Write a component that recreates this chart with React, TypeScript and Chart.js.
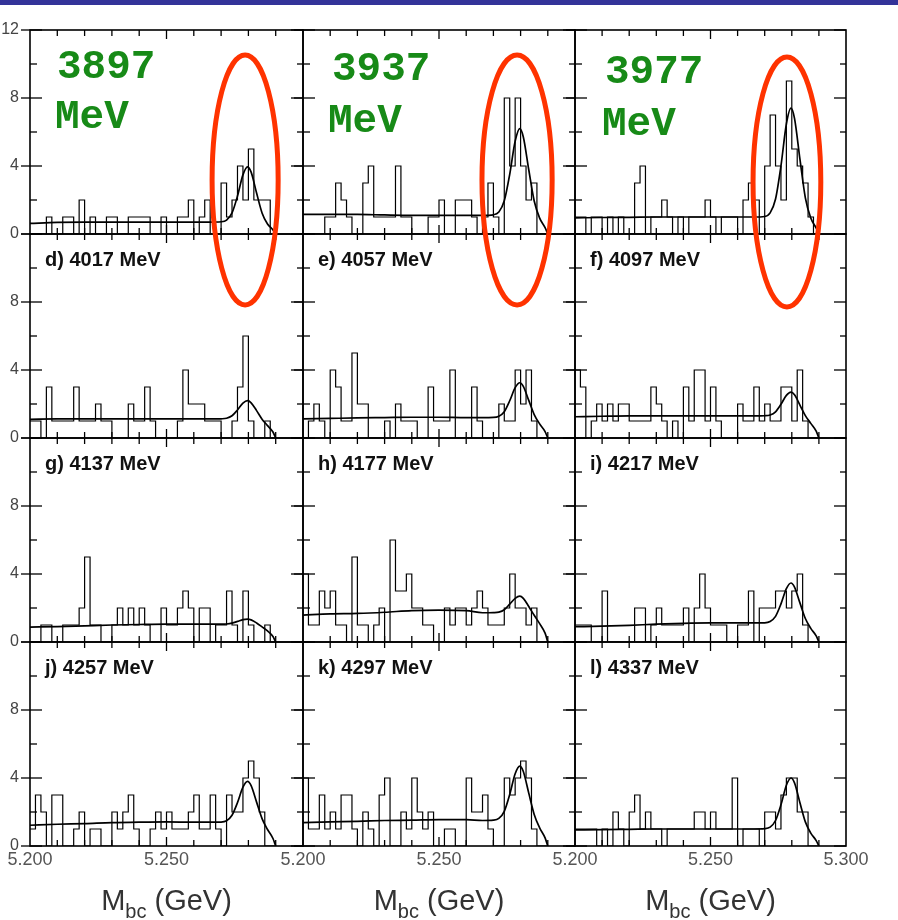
import React, { useEffect, useRef } from "react";
import { Chart, registerables } from "chart.js";

Chart.register(...registerables);

// ---------------- axes ----------------
const X_MIN = 5.2;
const X_MAX = 5.3;
const Y_MIN = 0;
const Y_MAX = 12;
const BIN_WIDTH = 0.002;
const HIST_END = 5.29;
const xTicks = [5.21, 5.22, 5.23, 5.24, 5.25, 5.26, 5.27, 5.28, 5.29];
const xLongTick = 5.25;
const xTickLabels = [5.2, 5.25];
const xLastLabel = 5.3;
const yMajorTicks = [0, 4, 8, 12];
const yMinorTicks = [2, 6, 10];
const yTickLabels = [0, 4, 8];
const yTopLabel = 12;

// ---------------- histograms (counts per 2 MeV bin, 5.200 - 5.290 GeV) ----------------
const histA = [0, 0, 0, 1, 0, 0, 1, 1, 0, 2, 0, 1, 0, 0, 1, 1, 0, 0, 1, 1, 1, 1, 0, 0, 1, 0, 0, 1, 1, 2, 0, 1, 2, 0, 0, 3, 1, 2, 4, 2, 5, 2, 2, 2, 0];
const histB = [0, 0, 0, 0, 1, 1, 3, 2, 1, 0, 0, 3, 4, 1, 1, 1, 1, 4, 1, 1, 0, 0, 0, 1, 1, 2, 0, 0, 2, 2, 2, 1, 0, 1, 3, 1, 0, 8, 4, 8, 4, 2, 3, 0, 0];
const histC = [1, 1, 0, 1, 1, 0, 1, 0, 1, 0, 0, 3, 4, 0, 1, 1, 2, 1, 0, 1, 0, 1, 1, 1, 2, 1, 0, 1, 1, 1, 0, 2, 3, 2, 0, 4, 7, 4, 2, 9, 5, 4, 3, 1, 0];
const histD = [1, 1, 0, 3, 1, 1, 1, 1, 3, 1, 1, 1, 2, 1, 1, 0, 0, 0, 2, 1, 1, 3, 1, 0, 0, 0, 0, 1, 4, 2, 2, 2, 1, 1, 1, 0, 0, 1, 3, 6, 1, 0, 0, 1, 0];
const histE = [0, 1, 2, 1, 0, 4, 3, 1, 1, 5, 2, 2, 0, 0, 0, 1, 0, 2, 1, 1, 1, 0, 0, 3, 1, 1, 1, 4, 0, 0, 0, 3, 1, 0, 0, 0, 2, 1, 1, 4, 2, 4, 1, 0, 0];
const histF = [4, 3, 0, 1, 2, 1, 2, 1, 2, 2, 1, 1, 1, 1, 3, 2, 1, 0, 1, 0, 3, 1, 4, 4, 1, 3, 1, 0, 0, 0, 2, 1, 1, 3, 1, 2, 1, 1, 3, 3, 1, 4, 1, 0, 0];
const histG = [0, 0, 1, 1, 0, 0, 1, 1, 1, 2, 5, 1, 1, 0, 0, 1, 2, 1, 2, 1, 2, 1, 0, 0, 2, 1, 1, 2, 3, 2, 0, 2, 2, 0, 1, 1, 3, 1, 0, 3, 1, 0, 0, 1, 0];
const histH = [4, 1, 1, 3, 2, 3, 1, 1, 0, 5, 1, 1, 0, 1, 2, 0, 6, 3, 3, 4, 2, 2, 1, 1, 0, 0, 2, 1, 2, 2, 1, 2, 3, 2, 1, 1, 1, 2, 4, 2, 2, 1, 2, 0, 0];
const histI = [1, 1, 1, 0, 0, 3, 0, 0, 0, 0, 0, 2, 2, 0, 1, 2, 1, 1, 1, 1, 2, 0, 2, 4, 2, 1, 1, 1, 0, 0, 1, 1, 3, 0, 2, 2, 2, 3, 3, 2, 3, 4, 1, 0, 0];
const histJ = [1, 3, 2, 0, 3, 3, 0, 0, 1, 2, 0, 1, 1, 0, 0, 2, 1, 2, 3, 1, 0, 0, 1, 2, 1, 2, 1, 1, 1, 2, 3, 1, 1, 3, 1, 0, 3, 2, 2, 4, 5, 4, 2, 0, 0];
const histK = [4, 1, 1, 3, 1, 2, 1, 3, 3, 1, 0, 2, 1, 0, 3, 4, 0, 0, 2, 1, 4, 2, 1, 2, 0, 0, 1, 1, 0, 0, 4, 2, 2, 3, 1, 0, 0, 4, 3, 4, 5, 4, 1, 0, 0];
const histL = [1, 1, 1, 1, 0, 1, 0, 2, 1, 0, 2, 3, 1, 2, 1, 1, 0, 1, 1, 1, 1, 1, 2, 2, 1, 2, 1, 1, 1, 4, 0, 1, 1, 1, 0, 2, 2, 1, 3, 4, 4, 2, 2, 0, 0];

// ---------------- fit curves (values read at fitX) ----------------
const fitX = [5.2, 5.21, 5.22, 5.23, 5.24, 5.25, 5.26, 5.266, 5.27, 5.272, 5.274, 5.276, 5.278, 5.2797, 5.281, 5.283, 5.285, 5.287, 5.289, 5.29];
const fitA = [0.62, 0.68, 0.7, 0.7, 0.7, 0.7, 0.7, 0.7, 0.72, 0.82, 1.24, 2.23, 3.48, 3.95, 3.64, 2.41, 1.24, 0.59, 0.24, 0];
const fitB = [1.15, 1.15, 1.15, 1.12, 1.1, 1.1, 1.1, 1.1, 1.13, 1.29, 1.95, 3.51, 5.46, 6.2, 5.71, 3.78, 1.94, 0.93, 0.37, 0];
const fitC = [0.95, 0.97, 0.98, 1.0, 1.0, 1.0, 1.0, 1.0, 1.03, 1.24, 2.06, 4.01, 6.47, 7.4, 6.8, 4.4, 2.13, 0.94, 0.35, 0];
const fitD = [1.1, 1.12, 1.12, 1.12, 1.12, 1.12, 1.12, 1.12, 1.13, 1.16, 1.31, 1.65, 2.05, 2.2, 2.07, 1.61, 1.11, 0.73, 0.35, 0];
const fitE = [1.12, 1.15, 1.18, 1.2, 1.22, 1.22, 1.2, 1.2, 1.21, 1.28, 1.55, 2.19, 2.96, 3.25, 3.04, 2.21, 1.38, 0.83, 0.38, 0];
const fitF = [1.25, 1.28, 1.3, 1.3, 1.3, 1.3, 1.3, 1.3, 1.31, 1.35, 1.54, 1.98, 2.51, 2.7, 2.54, 1.94, 1.32, 0.86, 0.4, 0];
const fitG = [0.88, 0.9, 0.95, 1.0, 1.03, 1.05, 1.05, 1.05, 1.05, 1.06, 1.11, 1.21, 1.32, 1.35, 1.3, 1.12, 0.89, 0.65, 0.32, 0];
const fitH = [1.58, 1.65, 1.68, 1.75, 1.85, 1.88, 1.85, 1.72, 1.73, 1.76, 1.9, 2.23, 2.57, 2.7, 2.57, 2.09, 1.57, 1.08, 0.52, 0];
const fitI = [0.9, 0.93, 0.98, 1.05, 1.1, 1.12, 1.12, 1.12, 1.13, 1.21, 1.51, 2.24, 3.14, 3.47, 3.23, 2.3, 1.38, 0.8, 0.36, 0];
const fitJ = [1.22, 1.28, 1.32, 1.38, 1.4, 1.42, 1.4, 1.4, 1.41, 1.49, 1.81, 2.55, 3.46, 3.8, 3.55, 2.58, 1.61, 0.97, 0.44, 0];
const fitK = [1.38, 1.42, 1.45, 1.5, 1.52, 1.55, 1.55, 1.5, 1.52, 1.62, 2.04, 3.03, 4.25, 4.7, 4.38, 3.11, 1.86, 1.07, 0.48, 0];
const fitL = [0.95, 0.96, 0.98, 1.0, 1.0, 1.0, 1.0, 1.0, 1.02, 1.11, 1.5, 2.42, 3.57, 4.0, 3.71, 2.55, 1.42, 0.76, 0.32, 0];

// ---------------- labels ----------------
const panelLabels = ["", "", "", "d) 4017 MeV", "e) 4057 MeV", "f) 4097 MeV", "g) 4137 MeV", "h) 4177 MeV", "i) 4217 MeV", "j) 4257 MeV", "k) 4297 MeV", "l) 4337 MeV"];
const energyLabels = ["3897", "3937", "3977"];
const energyUnit = "MeV";
const axisTitleMain = "M";
const axisTitleSub = "bc";
const axisTitleRest = " (GeV)";

// red highlight ellipses on the top row (data units)
const ellipseCx = [5.2788, 5.2787, 5.2782];
const ellipseCy = [3.18, 3.18, 3.06];
const ellipseRx = [0.0121, 0.0129, 0.0125];
const ellipseRy = [7.35, 7.35, 7.35];

const histograms = [histA, histB, histC, histD, histE, histF, histG, histH, histI, histJ, histK, histL];
const fits = [fitA, fitB, fitC, fitD, fitE, fitF, fitG, fitH, fitI, fitJ, fitK, fitL];

// ---------------- layout (pixels) ----------------
const W = 898;
const H = 920;
const COL_EDGES = [30, 303, 575, 846];
const ROW_EDGES = [30, 234, 438, 642, 846];
const GREEN_OFF = [
  { x1: 27, y1: 38, x2: 25, y2: 88 },
  { x1: 29, y1: 40, x2: 25, y2: 92 },
  { x1: 30, y1: 43, x2: 27, y2: 95 },
];
const SANS = "'Liberation Sans', Arial, Helvetica, sans-serif";

function makeDecor(idx: number) {
  const row = Math.floor(idx / 3);
  const col = idx % 3;
  return {
    id: "decor" + idx,
    afterDraw(chart: any) {
      const ctx = chart.ctx as CanvasRenderingContext2D;
      const { left, right, top, bottom } = chart.chartArea;
      const xs = chart.scales.x;
      const ys = chart.scales.y;
      const seg = (x1: number, y1: number, x2: number, y2: number) => {
        ctx.beginPath();
        ctx.moveTo(x1, y1);
        ctx.lineTo(x2, y2);
        ctx.stroke();
      };
      ctx.save();
      ctx.strokeStyle = "#000";
      ctx.lineWidth = 1.3;
      yMajorTicks.forEach((v) => {
        const py = ys.getPixelForValue(v);
        seg(left - 9, py, left + 12, py);
        seg(right - 12, py, right, py);
      });
      yMinorTicks.forEach((v) => {
        const py = ys.getPixelForValue(v);
        seg(left, py, left + 7, py);
        seg(right - 6, py, right, py);
      });
      xTicks.forEach((v) => {
        const px = xs.getPixelForValue(v);
        const len = Math.abs(v - xLongTick) < 1e-9 ? 9 : 6;
        seg(px, top, px, top + len);
        seg(px, bottom - len, px, bottom);
      });
      ctx.lineWidth = 1.6;
      ctx.strokeRect(left, top, right - left, bottom - top);

      // y tick labels
      if (col === 0) {
        ctx.fillStyle = "#444";
        ctx.font = "16px " + SANS;
        ctx.textAlign = "right";
        ctx.textBaseline = "middle";
        const labs = row === 0 ? [...yTickLabels, yTopLabel] : yTickLabels;
        labs.forEach((v) => {
          ctx.fillText(String(v), 19, ys.getPixelForValue(v));
        });
      }
      // x tick labels + axis title
      if (row === 3) {
        ctx.fillStyle = "#555";
        ctx.font = "18px " + SANS;
        ctx.textAlign = "center";
        ctx.textBaseline = "middle";
        const labs = col === 2 ? [...xTickLabels, xLastLabel] : xTickLabels;
        labs.forEach((v) => {
          ctx.fillText(v.toFixed(3), xs.getPixelForValue(v), 860);
        });
        // axis title M_bc (GeV)
        ctx.fillStyle = "#333";
        ctx.textAlign = "left";
        ctx.textBaseline = "alphabetic";
        const big = "29px " + SANS;
        const small = "20px " + SANS;
        ctx.font = big;
        const wM = ctx.measureText(axisTitleMain).width;
        const wR = ctx.measureText(axisTitleRest).width;
        ctx.font = small;
        const wS = ctx.measureText(axisTitleSub).width;
        const total = wM + wS + wR;
        const cx = (left + right) / 2;
        let x0 = cx - total / 2;
        const base = 910;
        ctx.font = big;
        ctx.fillText(axisTitleMain, x0, base);
        x0 += wM;
        ctx.font = small;
        ctx.fillText(axisTitleSub, x0, base + 8);
        x0 += wS;
        ctx.font = big;
        ctx.fillText(axisTitleRest, x0, base);
      }
      // panel label
      if (panelLabels[idx]) {
        ctx.fillStyle = "#111";
        ctx.font = "bold 20px " + SANS;
        ctx.textAlign = "left";
        ctx.textBaseline = "middle";
        ctx.fillText(panelLabels[idx], left + 15, top + 26);
      }
      // green energy labels + red ellipses on top row
      if (row === 0) {
        const g = GREEN_OFF[col];
        ctx.fillStyle = "#178a17";
        ctx.font = "bold 41px 'Liberation Mono', 'Courier New', monospace";
        ctx.textAlign = "left";
        ctx.textBaseline = "middle";
        ctx.fillText(energyLabels[col], left + g.x1, top + g.y1);
        ctx.fillText(energyUnit, left + g.x2, top + g.y2);

        const ecx = xs.getPixelForValue(ellipseCx[col]);
        const ecy = ys.getPixelForValue(ellipseCy[col]);
        const erx = Math.abs(xs.getPixelForValue(ellipseCx[col] + ellipseRx[col]) - ecx);
        const ery = Math.abs(ys.getPixelForValue(ellipseCy[col] + ellipseRy[col]) - ecy);
        ctx.strokeStyle = "#ff3300";
        ctx.lineWidth = 5;
        ctx.beginPath();
        ctx.ellipse(ecx, ecy, erx, ery, 0, 0, Math.PI * 2);
        ctx.stroke();
      }
      ctx.restore();
    },
  };
}

function Panel({ idx }: { idx: number }) {
  const ref = useRef<HTMLCanvasElement>(null);
  const row = Math.floor(idx / 3);
  const col = idx % 3;
  useEffect(() => {
    const hist = histograms[idx];
    const fit = fits[idx];
    const histPts = hist.map((v, i) => ({ x: X_MIN + i * BIN_WIDTH, y: v }));
    histPts.push({ x: HIST_END, y: 0 });
    const fitPts = fitX.map((x, i) => ({ x, y: fit[i] }));
    const chart = new Chart(ref.current as HTMLCanvasElement, {
      type: "line",
      data: {
        datasets: [
          {
            data: histPts,
            stepped: "before",
            borderColor: "#000",
            borderWidth: 1.2,
            pointRadius: 0,
            fill: false,
          },
          {
            data: fitPts,
            borderColor: "#000",
            borderWidth: 1.7,
            pointRadius: 0,
            cubicInterpolationMode: "monotone",
            fill: false,
          },
        ],
      } as any,
      options: {
        responsive: false,
        animation: false,
        events: [],
        layout: {
          padding: {
            left: COL_EDGES[col],
            right: W - COL_EDGES[col + 1],
            top: ROW_EDGES[row],
            bottom: H - ROW_EDGES[row + 1],
          },
        },
        scales: {
          x: { type: "linear", min: X_MIN, max: X_MAX, display: false },
          y: { type: "linear", min: Y_MIN, max: Y_MAX, display: false },
        },
        plugins: { legend: { display: false }, tooltip: { enabled: false }, title: { display: false } },
      } as any,
      plugins: [makeDecor(idx)],
    });
    return () => chart.destroy();
  }, [idx]);
  return (
    <canvas
      ref={ref}
      width={W}
      height={H}
      style={{ position: "absolute", left: 0, top: 0, width: W, height: H, zIndex: 10 - row }}
    />
  );
}

export default function App() {
  const indices = [0, 1, 2, 3, 4, 5, 6, 7, 8, 9, 10, 11];
  return (
    <div style={{ position: "absolute", left: 0, top: 0, width: W, height: H, background: "#fff", overflow: "hidden" }}>
      <div style={{ position: "absolute", left: 0, top: 0, width: W, height: 5, background: "#333399", zIndex: 20 }} />
      {indices.map((i) => (
        <Panel key={i} idx={i} />
      ))}
    </div>
  );
}
